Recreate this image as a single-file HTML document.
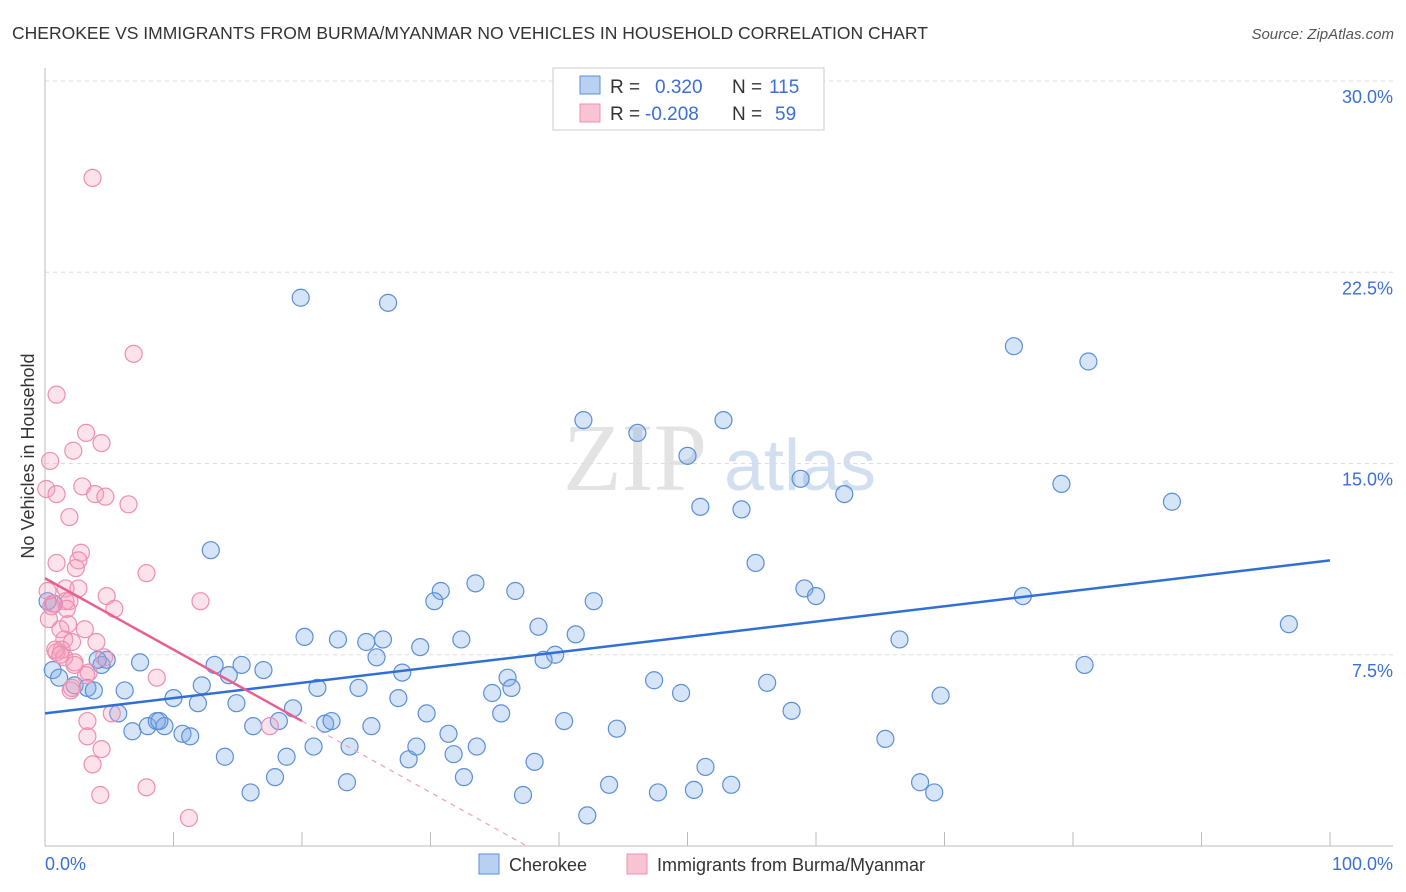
<!DOCTYPE html>
<html><head><meta charset="utf-8"><style>
body{margin:0;background:#fff;font-family:"Liberation Sans",sans-serif;}
svg{display:block}
</style></head><body>
<svg id="chart" width="1406" height="892" xmlns="http://www.w3.org/2000/svg">
<text x="12" y="39" font-size="17.5" fill="#333">CHEROKEE VS IMMIGRANTS FROM BURMA/MYANMAR NO VEHICLES IN HOUSEHOLD CORRELATION CHART</text>
<text x="1394" y="39" font-size="15" fill="#555" font-style="italic" text-anchor="end">Source: ZipAtlas.com</text>
<text transform="translate(34,456) rotate(-90)" font-size="18" fill="#333" text-anchor="middle">No Vehicles in Household</text>
<g>
<text x="635" y="490" font-size="96" fill="#ddd" font-family="Liberation Serif,serif" text-anchor="middle" opacity="0.8">ZIP</text>
<text x="800" y="490" font-size="72" fill="#c8d8ee" text-anchor="middle" opacity="0.8">atlas</text>
</g>
<g id="grid"></g>
<g id="axes"></g>
<g id="marks"></g>
<g>
<rect x="553" y="68" width="271" height="62" fill="#fff" stroke="#ccc"/>
<rect x="580" y="76" width="20" height="18" fill="#b8d0f2" stroke="#5b8fd8"/>
<rect x="580" y="104" width="20" height="18" fill="#f8c4d4" stroke="#ee8fb0"/>
<text x="610" y="93" font-size="19" fill="#333">R = </text><text x="655" y="93" font-size="19" fill="#3b6fd4">0.320</text>
<text x="732" y="93" font-size="19" fill="#333">N = </text><text x="769" y="93" font-size="19" fill="#3b6fd4">115</text>
<text x="610" y="120" font-size="19" fill="#333">R = </text><text x="645" y="120" font-size="19" fill="#3b6fd4">-0.208</text>
<text x="732" y="120" font-size="19" fill="#333">N = </text><text x="775" y="120" font-size="19" fill="#3b6fd4">59</text>
</g>
<g>
<rect x="479" y="854" width="20" height="20" fill="#b8d0f2" stroke="#5b8fd8"/>
<text x="509" y="871" font-size="18" fill="#333">Cherokee</text>
<rect x="627" y="854" width="20" height="20" fill="#f8c4d4" stroke="#ee8fb0"/>
<text x="657" y="871" font-size="18" fill="#333">Immigrants from Burma/Myanmar</text>
</g>
</svg>
<script>
const yTicks=[7.5,15,22.5,30];
const yTickLabels=["7.5%","15.0%","22.5%","30.0%"];
const xTickValues=[0,10,20,30,40,50,60,70,80,90,100];
const blueX=[19.9,26.7,75.4,81.2,41.9,52.8,46.1,50.0,58.8,62.2,79.1,87.7,51.0,54.2,12.9,55.3,33.5,36.6,30.8,30.3,59.1,60.0,42.7,76.1,96.8,38.4,41.3,20.2,22.8,25.0,26.3,29.2,32.4,66.5,39.7,38.8,25.8,80.9,7.4,4.8,13.2,15.3,14.3,17.0,27.8,36.0,4.4,0.6,1.1,2.3,3.3,3.8,6.2,12.2,21.2,24.4,34.8,36.3,47.4,49.5,56.2,69.7,10.0,11.9,14.9,19.3,27.5,35.5,29.7,58.1,5.7,6.8,8.0,8.7,9.3,10.7,11.3,16.2,18.2,21.8,22.3,25.4,31.4,40.4,44.5,65.4,18.8,20.9,23.7,28.3,28.9,31.8,33.6,38.1,14.0,32.6,23.5,17.9,51.4,43.9,53.4,68.1,16.0,37.2,47.7,50.5,69.2,42.2,0.7,0.2,8.9,4.1];
const blueY=[21.5,21.3,19.6,19.0,16.7,16.7,16.2,15.3,14.4,13.8,14.2,13.5,13.3,13.2,11.6,11.1,10.3,10.0,10.0,9.6,10.1,9.8,9.6,9.8,8.7,8.6,8.3,8.2,8.1,8.0,8.1,7.8,8.1,8.1,7.5,7.3,7.4,7.1,7.2,7.3,7.1,7.1,6.7,6.9,6.8,6.6,7.1,6.9,6.6,6.3,6.2,6.1,6.1,6.3,6.2,6.2,6.0,6.2,6.5,6.0,6.4,5.9,5.8,5.6,5.6,5.4,5.8,5.2,5.2,5.3,5.2,4.5,4.7,4.9,4.7,4.4,4.3,4.7,4.9,4.8,4.9,4.7,4.4,4.9,4.6,4.2,3.5,3.9,3.9,3.4,3.9,3.6,3.9,3.3,3.5,2.7,2.5,2.7,3.1,2.4,2.4,2.5,2.1,2.0,2.1,2.2,2.1,1.2,9.5,9.6,4.9,7.3];
const pinkX=[3.7,6.9,0.9,3.2,4.4,2.2,0.4,0.1,0.9,2.9,3.9,4.7,6.5,1.9,2.8,2.6,0.9,2.4,7.9,1.6,2.6,12.1,4.8,1.6,5.4,0.6,0.3,1.8,1.2,3.1,4.0,1.5,2.1,1.3,0.9,1.5,4.6,2.3,3.4,8.7,2.0,2.1,5.2,3.3,17.5,3.3,4.4,3.7,7.9,4.3,11.2,0.5,0.2,1.9,3.2,0.8,1.2,2.3,1.7];
const pinkY=[26.2,19.3,17.7,16.2,15.8,15.5,15.1,14.0,13.8,14.1,13.8,13.7,13.4,12.9,11.5,11.2,11.1,10.9,10.7,10.1,10.1,9.6,9.8,9.6,9.3,9.5,8.9,8.7,8.5,8.5,8.0,8.1,8.0,7.7,7.6,7.4,7.4,7.2,6.8,6.6,6.1,6.2,5.2,4.9,4.7,4.3,3.8,3.2,2.3,2.0,1.1,9.4,10.0,9.6,6.7,7.7,7.5,7.1,9.3];
const blueTrend=[5.2,11.2];
const pinkTrend=[10.5,4.9];
const pinkTrendEnd=20;

const NS="http://www.w3.org/2000/svg";
const X0=45,X1=1330,Y0=846,PX=25.5;
const sx=v=>X0+(X1-X0)*v/100;
const sy=v=>Y0-v*PX;
function mk(t,a,p){const e=document.createElementNS(NS,t);for(const k in a)e.setAttribute(k,a[k]);p.appendChild(e);return e;}
const grid=document.getElementById('grid'),axes=document.getElementById('axes'),marks=document.getElementById('marks');
yTicks.forEach((v,i)=>{
 const l=mk('line',{x1:X0,x2:1393,y1:sy(v),y2:sy(v),stroke:'#ddd','stroke-dasharray':'4,4'},grid);
 
 
 const t=mk('text',{x:1393,y:sy(v)+22,'font-size':18,fill:'#3b6fd4','text-anchor':'end'},axes);
 t.textContent=yTickLabels[i];
 
 
});
const ya=mk('line',{x1:X0,x2:X0,y1:68,y2:Y0,stroke:'#bbb'},axes);


const xa=mk('line',{x1:X0,x2:1393,y1:Y0,y2:Y0,stroke:'#bbb'},axes);


xTickValues.forEach(v=>{
 const l=mk('line',{x1:sx(v),x2:sx(v),y1:Y0-14,y2:Y0,stroke:'#bbb'},axes);
 
 
});
const xl0=mk('text',{x:45,y:870,'font-size':18,fill:'#3b6fd4'},axes);xl0.textContent='0.0%';


const xl1=mk('text',{x:1393,y:870,'font-size':18,fill:'#3b6fd4','text-anchor':'end'},axes);xl1.textContent='100.0%';


blueX.forEach((x,i)=>{
 const c=mk('circle',{cx:sx(x),cy:sy(blueY[i]),r:8.5,fill:'rgba(120,165,230,0.3)',stroke:'#5b8fd8','stroke-width':1.2},marks);
 
 
});
pinkX.forEach((x,i)=>{
 const c=mk('circle',{cx:sx(x),cy:sy(pinkY[i]),r:8.5,fill:'rgba(245,160,190,0.3)',stroke:'#ee8fb0','stroke-width':1.2},marks);
 
 
});
const bt=mk('line',{x1:sx(0),y1:sy(blueTrend[0]),x2:sx(100),y2:sy(blueTrend[1]),stroke:'#2f6fd6','stroke-width':2.5},marks);


const slope=(pinkTrend[1]-pinkTrend[0])/pinkTrendEnd;
const zeroX=-pinkTrend[0]/slope;
const pt=mk('line',{x1:sx(0),y1:sy(pinkTrend[0]),x2:sx(pinkTrendEnd),y2:sy(pinkTrend[1]),stroke:'#e8608e','stroke-width':2.5},marks);


const pd=mk('line',{x1:sx(pinkTrendEnd),y1:sy(pinkTrend[1]),x2:sx(zeroX),y2:sy(0),stroke:'#eea0bb','stroke-width':1.2,'stroke-dasharray':'5,5'},marks);


</script>
</body></html>
